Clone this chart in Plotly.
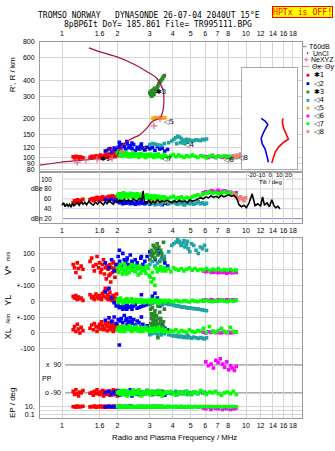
import numpy as np
import plotly.graph_objects as go

# ---------------- data ----------------
freq_tickvals = [1, 1.6, 2, 3, 4, 5, 6, 7, 8, 10, 12, 14, 16, 18]
freq_ticktext = ["1", "1.6", "2", "3", "4", "5", "6", "7", "8", "10", "12", "14", "16", "18"]
height_ticks = [80, 90, 100, 120, 150, 200, 300, 400, 600, 800]

# true-height profile (plasma frequency / MHz, height / km)
prof_f = [0.76, 0.98, 1.25, 1.61, 1.82, 1.99, 2.07, 2.2, 2.4, 2.65, 2.9, 3.12, 3.41, 3.54, 3.58, 3.54, 3.28, 2.9, 2.43, 1.99, 1.61, 1.40]
prof_h = [86.8, 91.5, 94.8, 98.2, 98.5, 103.6, 119, 130, 140, 150, 170, 192, 203, 234, 279, 333, 412, 466, 537, 608, 665, 714]
ne_f = [1.21, 1.35, 1.55, 1.87, 2.12, 3.16, 3.41]
ne_h = [91.5, 95, 96.5, 98, 111, 176, 200]

# tilt inset
tiltx_deg = [1.8, 2.9, 5.4, 9.0, 14.5, 19.9, 17.4, 14.5, 13.4, 13.8]
tiltx_h = [90.4, 97, 109.3, 119.4, 130.4, 138.3, 151.1, 170.1, 185.8, 200.5]
tilty_deg = [-1.8, -2.5, -3.6, -5.4, -8.4, -9.8, -7.3, -4.7, -2.5, -5.4, -9.8]
tilty_h = [91.5, 97, 105.3, 115.9, 126.5, 139.9, 155.7, 170.1, 180.6, 191.1, 200.5]

# echo groups
f1 = [1.15,1.17,1.19,1.21,1.23,1.25,1.27,1.30, 1.42,1.45,1.48,1.50,1.53,1.55,1.58,1.60, 1.62,1.64,1.66,1.68,1.70,1.72,1.74,1.76, 1.78,1.80,1.82,1.84,1.86,1.88,1.90,1.92, 1.94,1.96,1.98,2.00, 1.75,1.83,1.90,1.95]
R1 = [101,99,102,100,98,101,100,99, 100,102,99,101,103,100,98,102, 104,100,101,99,103,105,101,100, 104,106,102,99,107,103,105,108, 101,104,106,103, 113,117,111,115]
A1 = [52,56,54,58,53,57,55,59, 58,60,56,61,59,63,57,60, 62,58,64,60,61,59,63,60, 62,65,61,59,63,66,62,60, 64,61,63,58, 60,64,62,61]
V1 = [30,10,-20,40,5,-50,20,0, 50,70,20,-10,30,80,10,40, -20,0,30,60,-30,10,-60,20, 0,-40,30,-80,10,-20,40,0, -50,20,-10,30, 15,-30,45,5]
YL1 = [30,20,35,10,25,15,20,5, 40,20,30,10,45,25,15,35, 20,10,50,30,60,80,20,40, 10,30,55,15,5,25,35,0, 20,10,45,15, 70,25,35,10]
XL1 = [20,40,10,55,25,0,35,15, 30,50,20,60,40,10,35,55, 25,70,45,20,30,60,50,15, 40,65,30,20,45,75,35,25, 55,40,20,50, 60,30,10,45]
PP1 = [-80,-100,-70,-95,-110,-85,-90,-75, -92,-88,-105,-80,-95,-70,-90,-100, -85,-95,-75,-110,-90,-80,-100,-88, -92,-78,-105,-85,-95,-90,-70,-100, -85,-95,-80,-110, -90,-85,-100,-75]
EP1 = [10,12,8,15,9,11,10,13, 9,12,10,14,8,11,10,12, 15,9,11,10,13,8,12,10, 9,14,11,10,12,9,11,13, 10,8,12,10, 11,10,9,12]

f2 = [1.72,1.80,1.86,1.92,1.97,2.02,2.06,2.10, 2.14,2.18,2.22,2.26,2.30,2.35,2.40,2.45, 2.50,2.56,2.62,2.68,2.75,2.82,2.90,3.00, 3.10,3.20,3.30,3.40,3.50,3.62,3.75, 2.05,2.25,2.40,2.70]
R2 = [112,116,110,118,114,120,124,117, 126,121,115,128,119,123,117,126, 113,120,116,122,118,114,120,117, 119,113,121,116,118,112,115, 131,133,129,127]
A2 = [58,56,60,55,57,54,52,55, 50,53,51,54,52,50,53,51, 49,52,50,53,51,50,52,49, 51,53,50,52,48,51,50, 55,53,51,54]
V2 = [40,10,60,-10,30,80,50,20, 100,60,40,70,30,90,50,20, 60,40,10,70,30,50,80,110, 90,60,130,100,70,40,20, 120,60,40,80]
YL2 = [60,80,20,-10,-30,-20,-40,-35, -50,-30,-45,-25,-40,-35,-50,-30, -20,-45,-40,-35,-30,-25,-20,-10, 30,50,20,-30,-20,-15,-10, -40,-50,-30,40]
XL2 = [80,95,70,100,60,85,75,90, 65,110,80,55,70,95,60,85, 50,75,65,40,55,30,45,20, 35,60,40,25,50,30,20, -75,90,70,100]
PP2 = [-90,-80,-100,-85,-95,-75,-105,-90, -85,-100,-80,-95,-90,-70,-110,-85, -95,-80,-100,-90,-85,-95,-75,-90, -100,-85,-90,-80,-95,-105,-90, -85,-95,-80,-100]
EP2 = [9,11,10,12,8,10,13,9, 11,10,12,9,10,14,11,9, 10,12,8,11,10,9,12,10, 11,9,10,12,10,8,11, 10,12,9,11]

f3 = [3.00,3.03,3.06,3.10,3.13,3.16,3.20,3.23, 3.26,3.29,3.32,3.36,3.40,3.44,3.48,3.52, 3.56,3.60,3.08,3.18]
R3 = [320,308,330,315,335,310,325,340, 330,350,360,375,385,395,405,415, 425,435,300,345]
A3 = [55,57,54,56,58,55,53,56, 57,54,55,56,58,54,55,57, 56,55,54,56]
V3 = [60,90,120,80,150,100,70,130, 110,160,90,140,50,120,100,80, 170,60,110,140]
YL3 = [-20,-50,-80,-40,-100,-120,-60,-140, -90,-150,-30,-110,-70,-130,-20,0, -160,-50,-100,-80]
XL3 = [30,60,90,10,70,40,100,20, 80,50,-30,60,30,90,0,40, 70,20,50,110]
PP3 = [-90,-85,-95,-80,-100,-90,-85,-95, -90,-80,-100,-85,-95,-90,-85,-80, -95,-90,-100,-85]
EP3 = [10,11,9,12,10,9,11,10, 12,10,9,11,10,12,9,10, 11,10,9,12]

f4 = [3.00,3.10,3.20,3.30,3.45,3.60,3.80,3.95, 4.05,4.15,4.25,4.35,4.45,4.55,4.65,4.75, 4.85,4.95,5.05,5.20,5.35,5.50,5.65,5.80, 5.95,6.10, 4.20,4.40,4.60,4.80]
R4 = [126,128,127,125,124,128,130,134, 138,142,146,144,140,136,135,138, 137,136,134,135,137,136,135,138, 137,139, 128,130,129,131]
A4 = [50,52,48,51,49,53,50,52, 54,51,49,53,50,52,48,51, 53,50,52,49,51,54,50,52, 49,51, 50,52,48,51]
V4 = [30,50,20,40,60,80,110,150, 160,170,185,175,150,165,140,155, 130,110,160,150,120,100,140,130, 150,120, 170,160,180,175]
YL4 = [-10,-15,-5,-12,-18,-15,-20,-22, -25,-28,-30,-32,-35,-37,-38,-40, -42,-43,-45,-47,-48,-50,-52,-55, -57,-60, -30,-35,-38,-42]
XL4 = [-10,-5,0,-8,-12,-5,-10,-15, -18,-20,-22,-25,-20,-28,-25,-30, -22,-28,-32,-25,-30,-35,-28,-32, -38,-30, -15,-20,-25,-18]
PP4 = [-85,-95,-90,-80,-100,-90,-85,-95, -90,-80,-100,-85,-95,-90,-85,-80, -95,-90,-100,-85,-90,-95,-80,-90, -85,-95, -90,-85,-95,-100]
EP4 = [10,9,11,10,12,9,10,11, 9,12,10,8,11,10,9,12, 10,11,9,10,12,8,11,10, 9,11, 10,12,9,10]

f5 = [3.12, 3.22, 3.32, 3.42, 3.52, 3.62]
R5 = [202, 204, 203, 202, 204, 203]
A5 = [54, 58, 56, 59, 57, 55]

f6 = [5.85,6.05,6.25,6.45,6.65,6.85,7.05,7.25, 7.45,7.65,7.85,8.05,8.25,8.45,8.65,8.85]
R6 = [102,101,100,102,101,100,102,101, 100,101,102,100,101,100,101,100]
A6 = [72,74,73,76,75,74,77,73, 75,76,74,72,73,71,70,72]
V6 = [-10,-15,-12,-20,-18,-15,-22,-18, -20,-16,-25,-18,-20,-22,-17,-20]
YL6 = [5,8,3,10,6,2,8,4, 7,3,9,5,6,8,4,7]
XL6 = [5,0,8,3,10,2,6,0, 4,8,2,6,0,5,3,7]
PP6 = [-90,110,85,95,70,120,105,130, 95,75,110,60,85,70,55,80]
EP6 = [5,3,8,2,6,4,3,7, 2,5,3,6,2,4,3,5]

f7 = [2.00,2.04,2.08,2.12,2.16,2.20,2.25,2.30, 2.35,2.40,2.45,2.50,2.56,2.62,2.68,2.75, 2.82,2.90,2.98,3.06,3.15,3.24,3.34,3.44, 3.55,3.66,3.78,3.90,4.03,4.16,4.30,4.45, 4.60,4.76,4.93,5.10,5.28,5.47,5.67,5.88, 6.10,6.33,6.57,6.82,7.08,7.35,7.63,7.92, 8.22,8.53,8.85,
      2.02,2.06,2.10,2.14,2.18,2.22,2.27,2.32, 2.38,2.43,2.48,2.53,2.59,2.65,2.71,2.78, 2.86,2.94,3.02,3.10,3.20,3.29,3.39,3.50, 3.60]
R7 = [108,112,104,110,106,103,107,101, 105,103,107,102,104,100,106,103, 101,105,102,104,100,103,106,101, 104,102,100,103,105,101,104,102, 100,103,101,104,102,100,103,101, 99,102,104,100,102,101,103,100, 102,101,100,
      105,109,102,107,104,110,103,106, 101,108,104,106,102,107,103,105, 100,104,106,102,105,101,103,100, 104]
A7 = [66,70,64,68,72,65,69,67, 71,64,68,66,70,63,67,65, 62,68,64,66,60,63,65,61, 64,62,60,63,65,61,62,64, 60,63,61,64,66,68,65,70, 72,74,71,73,70,72,74,71, 73,70,68,
      68,62,70,66,64,69,63,67, 65,70,62,68,64,66,69,63, 66,61,65,63,66,62,64,60, 63]
V7 = [10,-20,30,0,-10,20,-30,5, 15,-5,25,-15,0,10,-25,5, -10,20,-40,-80,-60,10,-5,15, 0,-10,5,-15,10,0,-5,5, -10,0,8,-5,5,-8,0,-5, 5,-10,0,-5,5,-8,-2,-5, 0,-10,-5,
      -15,25,5,-30,35,-5,10,-20, 30,0,-10,15,-35,20,-5,10, -25,5,-50,-20,-100,-15,5,-10, 10]
YL7 = [10,-5,20,0,-10,5,15,-5, 0,10,-10,5,0,-5,10,0, -10,5,0,-5,10,0,-15,5, 0,-5,5,0,-5,5,0,-3, 3,0,-5,5,0,-3,3,0, 5,0,-3,3,0,5,0,-3, 3,0,5,
       -10,15,5,-15,0,10,-5,5, 15,-10,0,10,-5,5,-10,5, 0,-5,10,-5,0,5,-10,0, 5]
XL7 = [20,35,10,25,40,15,30,20, 35,10,25,30,15,20,35,10, 25,20,15,30,10,20,35,15, 10,20,5,15,10,20,5,15, 10,5,20,10,5,15,10,30, 5,40,10,5,15,30,10,5, 35,10,5,
       30,15,40,20,10,35,25,45, 15,30,20,40,25,10,30,20, 35,15,25,10,30,20,15,25, 10]
PP7 = [-90,-80,-100,-85,-95,-75,-105,-90, -85,-100,-80,-95,-90,-70,-110,-85, -95,-80,-100,-90,-85,-95,-75,-90, -100,-85,-90,-80,-95,-105,-90,-85, -95,-80,-100,-90,-85,-95,-75,-90, -100,-85,-90,-80,-95,-105,-90,-85, -95,-80,-100,
       -85,-95,-75,-100,-90,-80,-110,-95, -85,-70,-100,-90,-80,-95,-105,-85, -90,-75,-100,-85,-95,-90,-80,-110, -90]
EP7 = [10,12,8,11,9,13,10,12, 9,11,10,8,12,10,9,11, 13,10,8,12,10,11,9,10, 12,8,11,10,9,12,10,11, 9,10,12,8,11,10,9,12, 10,11,9,10,12,8,11,10, 9,12,10,
       11,9,12,10,8,13,10,11, 9,12,10,8,11,10,13,9, 12,10,11,9,10,12,8,11, 10]

f8 = [8.55, 8.75, 8.95, 9.15, 9.35, 9.55, 9.75, 9.95]
R8 = [103, 101, 104, 102, 106, 105, 108, 107]
A8 = [70, 66, 62, 58, 64, 60, 56, 62]

# amplitude trace (black)
amp_f = [1.00,1.02,1.04,1.06,1.08,1.10,1.12,1.14,1.16,1.18,
         1.21,1.24,1.27,1.30,1.33,1.36,1.40,1.44,1.48,1.52,
         1.56,1.60,1.64,1.68,1.72,1.76,1.80,1.85,1.90,1.95,
         2.00,2.06,2.12,2.18,2.24,2.30,2.37,2.44,2.51,2.58,
         2.65,2.72,2.76,2.80,2.88,2.96,3.04,3.12,3.20,3.30,
         3.40,3.50,3.60,3.72,3.84,3.96,4.08,4.20,4.35,4.50,
         4.65,4.80,4.96,5.12,5.30,5.48,5.66,5.85,6.05,6.25,
         6.45,6.66,6.88,7.10,7.34,7.58,7.82,8.08,8.34,8.60,
         8.88,9.16,9.45,9.75,10.05,10.40,10.80,11.2,11.6,12.0,
         12.3,12.6,13.0,13.4,13.8,14.2,14.5,14.9,15.3]
amp_db = [47,52,44,50,45,49,43,51,46,48,
          52,47,54,49,53,48,55,50,47,53,
          49,55,51,48,54,50,56,52,49,55,
          53,57,54,59,55,58,54,60,56,57,
          61,58,76,56,52,57,50,55,51,58,
          53,56,54,57,55,52,56,53,57,54,
          56,52,58,55,57,60,62,60,64,62,
          66,63,65,62,67,64,66,68,65,67,
          62,48,44,47,42,52,70,46,50,45,
          64,47,52,44,58,46,42,45,40]

groups = [
    ("✱1", "#ff0000", f1, R1, A1, V1, YL1, XL1, PP1, EP1),
    ("◁2", "#0000ff", f2, R2, A2, V2, YL2, XL2, PP2, EP2),
    ("✱3", "#2a8a2a", f3, R3, A3, V3, YL3, XL3, PP3, EP3),
    ("◁4", "#1fa3a3", f4, R4, A4, V4, YL4, XL4, PP4, EP4),
    ("◁5", "#ffa500", f5, R5, A5, None, None, None, None, None),
    ("◁6", "#ff00ff", f6, R6, A6, V6, YL6, XL6, PP6, EP6),
    ("◁7", "#00ff00", f7, R7, A7, V7, YL7, XL7, PP7, EP7),
    ("◁8", "#f08080", f8, R8, A8, None, None, None, None, None),
]
group_label_pos = [(1.723, 96.5), (2.77, 115.2), (3.47, 321), (4.87, 123.7),
                   (3.81, 189), (8.13, 94.8), (3.74, 96.5), (9.61, 98.2)]

# ---------------- layout helpers ----------------
W, H = 335, 451
def px(x): return x / W
def py(y): return 1 - y / H

FONT = "Liberation Sans"
MONO = "DejaVu Sans Mono"
GRID = "#d4d4d4"
FRAME = "#9a9a9a"
XR = [-0.1196, 1.3043]

def u_v(v): return list(v)
def u_yl(v): return [a - 200 for a in v]
def u_xl(v): return [a - 400 for a in v]
def u_pp(v): return [-688.3 + 0.975 * a for a in v]
def u_ep(v): return [-887 + 24 * np.log10(a) for a in v]

fig = go.Figure()

MS = 3.6
for name, col, f, R, A, V, YL, XL, PP, EP in groups:
    fig.add_trace(go.Scatter(x=f, y=R, mode="markers", xaxis="x", yaxis="y",
                             marker=dict(symbol="square", size=MS, color=col, line_width=0),
                             showlegend=False, hoverinfo="skip"))
fig.add_trace(go.Scatter(x=prof_f, y=prof_h, mode="lines", xaxis="x", yaxis="y",
                         line=dict(color="#a8103c", width=1.2, shape="spline"),
                         showlegend=False, hoverinfo="skip"))
fig.add_trace(go.Scatter(x=ne_f, y=ne_h, mode="markers", xaxis="x", yaxis="y",
                         marker=dict(symbol="cross-thin", size=5, line=dict(color="#e8709a", width=1.2)),
                         showlegend=False, hoverinfo="skip"))

for name, col, f, R, A, V, YL, XL, PP, EP in groups:
    fig.add_trace(go.Scatter(x=f, y=A, mode="markers", xaxis="x2", yaxis="y2",
                             marker=dict(symbol="square", size=MS, color=col, line_width=0),
                             showlegend=False, hoverinfo="skip"))
fig.add_trace(go.Scatter(x=amp_f, y=amp_db, mode="lines", xaxis="x2", yaxis="y2",
                         line=dict(color="black", width=1.6),
                         showlegend=False, hoverinfo="skip"))

for name, col, f, R, A, V, YL, XL, PP, EP in groups:
    if V is None:
        continue
    xs = list(f) * 5
    us = u_v(V) + u_yl(YL) + u_xl(XL) + u_pp(PP) + u_ep(EP)
    fig.add_trace(go.Scatter(x=xs, y=us, mode="markers", xaxis="x3", yaxis="y3",
                             marker=dict(symbol="square", size=MS, color=col, line_width=0),
                             showlegend=False, hoverinfo="skip"))

fig.add_trace(go.Scatter(x=tiltx_deg, y=tiltx_h, mode="lines", xaxis="x4", yaxis="y4",
                         line=dict(color="#ff0000", width=1.6), showlegend=False, hoverinfo="skip"))
fig.add_trace(go.Scatter(x=tilty_deg, y=tilty_h, mode="lines", xaxis="x4", yaxis="y4",
                         line=dict(color="#0000ff", width=1.6), showlegend=False, hoverinfo="skip"))

xcommon = dict(type="log", range=XR, tickvals=freq_tickvals, ticktext=freq_ticktext,
               showgrid=True, gridcolor=GRID, gridwidth=1, showline=True, mirror=True,
               linecolor=FRAME, linewidth=1, ticks="", zeroline=False, tickangle=0,
               tickfont=dict(family=FONT, size=7, color="black"),
               domain=[px(40), px(302)])

shapes = []
annotations = []

def ann(text, x, y, xref="paper", yref="paper", xa="center", ya="middle", size=7,
        family=FONT, color="black", angle=0, **kw):
    d = dict(text=text, x=x, y=y, xref=xref, yref=yref, xanchor=xa, yanchor=ya,
             showarrow=False, textangle=angle, font=dict(family=family, size=size, color=color))
    d.update(kw)
    annotations.append(d)

# inset white background + grid
ix0, ix1 = px(241.7), px(296.7)
iy0, iy1 = py(167), py(65)
shapes.append(dict(type="rect", xref="paper", yref="paper", x0=ix0, x1=ix1, y0=iy0, y1=iy1,
                   fillcolor="white", line=dict(width=0), layer="between"))
for d in [-20, -10, 0, 10, 20]:
    xx = ix0 + (d + 31) / 60 * (ix1 - ix0)
    shapes.append(dict(type="line", xref="paper", yref="paper", x0=xx, x1=xx, y0=iy0, y1=iy1,
                       line=dict(color="#c4c4cc", width=1), layer="between"))

# amplitude panel inner grid lines and labels
for db, c in [(100, GRID), (80, GRID), (60, GRID), (40, GRID), (20, "#8888d0")]:
    shapes.append(dict(type="line", xref="paper", yref="y2", x0=px(62), x1=px(302), y0=db, y1=db,
                       line=dict(color=c, width=1), layer="below"))
for txt, db in [("100", 100), ("dBe 80", 80), ("60", 60), ("40", 40), ("dBn 20", 20)]:
    ann(txt, px(54), db, yref="y2", xa="right", size=6.5)

# PP reference lines
for pp in [90, -90]:
    uu = -688.3 + 0.975 * pp
    shapes.append(dict(type="line", xref="paper", yref="y3", x0=px(65), x1=px(302), y0=uu, y1=uu,
                       line=dict(color="#7a7a7a", width=1), layer="below"))
ann("x  90", px(63), -688.3 + 0.975 * 90, yref="y3", xa="right")
ann("o -90", px(63), -688.3 - 0.975 * 90, yref="y3", xa="right")
ann("PP", px(47), py(379))

# group labels in main panel
for (name, col, *_), (lx, ly) in zip(groups, group_label_pos):
    ann(name, np.log10(lx), np.log10(ly), xref="x", yref="y", family="DejaVu Sans", size=7)

# titles and axis labels
ann("TROMSO\u00a0NORWAY\u00a0\u00a0\u00a0DYNASONDE\u00a026-07-04\u00a02040UT\u00a015°E",
    px(149), py(12), family=MONO, size=8)
ann("8pBP6It\u00a0DoY=\u00a0185.861\u00a0File=\u00a0TR995111.BPG", px(157.5), py(20.5),
    family=MONO, size=8)
ann("HPTx\u00a0is\u00a0OFF!", px(302.5), py(8), family=MONO, size=8.2, color="#ff0000",
    bgcolor="#ffff00", bordercolor="#ff0000", borderwidth=1, borderpad=0)
ann("R', R / km", px(12), py(72), size=8, angle=-90)
ann("V*", px(8), py(269), size=9, angle=-90)
ann("m/s", px(8), py(255), size=6, angle=-90)
ann("YL", px(8), py(300), size=9, angle=-90)
ann("/km", px(8), py(318), size=6, angle=-90)
ann("XL", px(8), py(334), size=9, angle=-90)
ann("EP / deg", px(12.5), py(403), size=8, angle=-90)
ann("Radio and Plasma Frequency / MHz", px(174), py(438), size=7.8)
ann("Tilt / deg", px(270), py(179.5), size=6)

# legend (drawn manually)
shapes.append(dict(type="line", xref="paper", yref="paper", x0=px(302.7), x1=px(306.5),
                   y0=py(43), y1=py(43), line=dict(color="#a0a0a0", width=1.5)))
ann("T60dB", px(306.8), py(43), xa="left")
shapes.append(dict(type="rect", xref="paper", yref="paper", x0=px(307), x1=px(308.2),
                   y0=py(50.2), y1=py(49), fillcolor="black", line=dict(width=0)))
ann("UnCl", px(310.5), py(50), xa="left")
shapes.append(dict(type="line", xref="paper", yref="paper", x0=px(304), x1=px(308.5),
                   y0=py(56.3), y1=py(56.3), line=dict(color="#e8709a", width=1)))
shapes.append(dict(type="line", xref="paper", yref="paper", x0=px(306.2), x1=px(306.2),
                   y0=py(54.1), y1=py(58.5), line=dict(color="#e8709a", width=1)))
ann("NeXYZ", px(308.8), py(56.3), xa="left")
shapes.append(dict(type="line", xref="paper", yref="paper", x0=px(303), x1=px(309),
                   y0=py(63.3), y1=py(63.3), line=dict(color="#ff8080", width=1)))
ann("Θx", px(309.5), py(63.3), xa="left")
shapes.append(dict(type="line", xref="paper", yref="paper", x0=px(317), x1=px(323),
                   y0=py(63.3), y1=py(63.3), line=dict(color="#8080ff", width=1)))
ann("Θy", px(323), py(63.3), xa="left")
for i, (name, col, *_) in enumerate(groups):
    yy = [72, 80.5, 89, 97.5, 105.3, 113.2, 121, 129][i]
    shapes.append(dict(type="rect", xref="paper", yref="paper", x0=px(306.5), x1=px(309.3),
                       y0=py(yy + 1.4), y1=py(yy - 1.4), fillcolor=col, line=dict(width=0)))
    ann(name, px(312), py(yy), xa="left", family="DejaVu Sans")

fig.update_layout(
    width=W, height=H, autosize=False,
    margin=dict(l=0, r=0, t=0, b=0, pad=0),
    paper_bgcolor="white", plot_bgcolor="white",
    showlegend=False,
    xaxis=dict(xcommon, anchor="y", side="top", ticklabelstandoff=2),
    yaxis=dict(type="log", range=[1.8846, 2.9031], domain=[py(170), py(38)], anchor="x",
               tickvals=height_ticks, ticktext=[str(v) for v in height_ticks],
               showgrid=True, gridcolor=GRID, showline=True, mirror=True, linecolor=FRAME,
               ticks="", zeroline=False, ticklabelstandoff=3,
               tickfont=dict(family=FONT, size=7, color="black")),
    xaxis2=dict(xcommon, anchor="y2", side="bottom"),
    yaxis2=dict(range=[10.6, 114], domain=[py(221.7), py(170)], anchor="x2",
                showticklabels=False, showgrid=False, showline=True, mirror=True,
                linecolor=FRAME, zeroline=False, ticks=""),
    xaxis3=dict(xcommon, anchor="y3", side="bottom"),
    yaxis3=dict(range=[-936, 196], domain=[py(419), py(236.7)], anchor="x3",
                tickvals=[100, 0, -100, -200, -300, -400, -500, -863, -887, -911],
                ticktext=["100", "0", "+-100", "0", "+-100", "0", "-100", "10.", "", "0.1"],
                showgrid=True, gridcolor=GRID, showline=True, mirror=True, linecolor=FRAME,
                ticks="", zeroline=False, ticklabelstandoff=3,
                tickfont=dict(family=FONT, size=7, color="black")),
    xaxis4=dict(domain=[ix0, ix1], range=[-31, 29], anchor="y4",
                tickvals=[-20, -10, 0, 10, 20], ticktext=["-20", "-10", "0", "10", "20"],
                tickangle=0, showgrid=False, showline=True, mirror=True, linecolor="#a8a8b8",
                ticks="", zeroline=False, ticklabelstandoff=0,
                tickfont=dict(family=FONT, size=6, color="black")),
    yaxis4=dict(type="log", domain=[iy0, iy1], range=[1.9077, 2.6923], anchor="x4",
                showticklabels=False, showgrid=False, showline=True, mirror=True,
                linecolor="#a8a8b8", ticks="", zeroline=False),
    shapes=shapes,
    annotations=annotations,
)

fig.write_html("out.html", config={"displayModeBar": False})
